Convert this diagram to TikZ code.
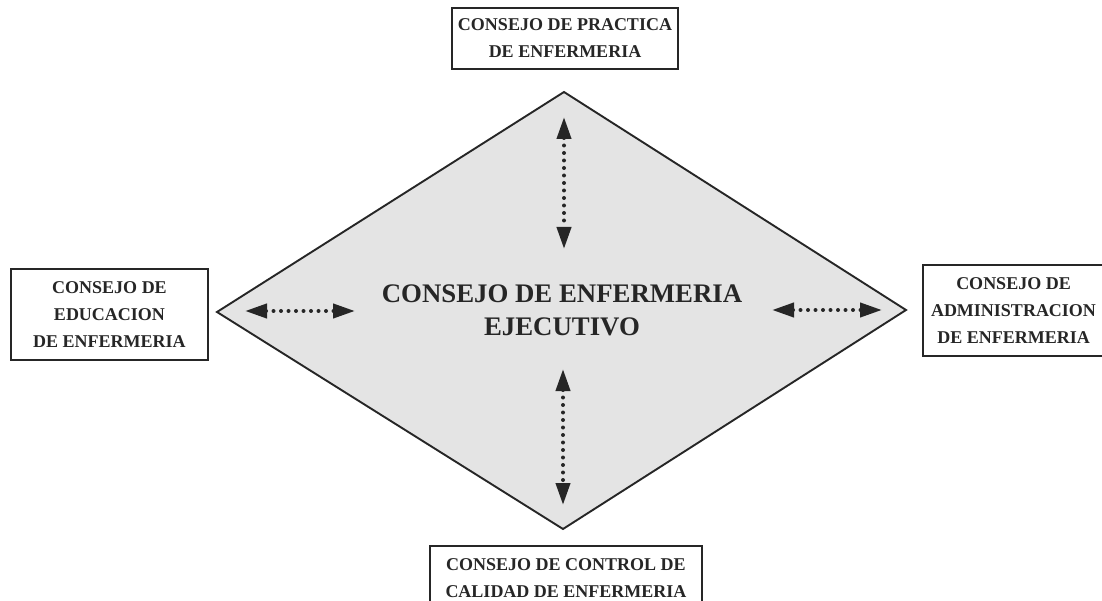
\documentclass[tikz,border=0pt]{standalone}
\usepackage{fontspec}
\setmainfont{Liberation Serif}
\usetikzlibrary{arrows.meta}
\definecolor{ink}{RGB}{38,38,38}
\definecolor{diafill}{RGB}{228,228,228}
\begin{document}
\begin{tikzpicture}[x=1pt,y=-1pt,
  box/.style={draw=ink, line width=1.6pt, text=ink, font=\bfseries\fontsize{18}{27}\selectfont, align=center, inner sep=0pt},
  dia/.style={draw=ink, line width=1.9pt, fill=diafill, line join=miter},
  dotarrow/.style={ink, line width=4pt, dash pattern=on 0pt off 7.5pt, line cap=round,
    {Triangle[length=22pt,width=14pt]}-{Triangle[length=22pt,width=14pt]}}]
\useasboundingbox (0,0) rectangle (1102,601);
\clip (0,0) rectangle (1102,601);
\fill[white] (0,0) rectangle (1102,601);
% diamond
\coordinate (T) at (564,92);
\coordinate (R) at (906,310);
\coordinate (B) at (563,529);
\coordinate (L) at (217,312);
\draw[dia] (T) -- (R) -- (B) -- (L) -- cycle;
% boxes
\node[box, minimum width=226pt, minimum height=61pt] (prac) at (565,38.5) {CONSEJO DE PRACTICA\\DE ENFERMERIA};
\node[box, minimum width=197pt, minimum height=91pt] (educ) at (109.5,314.5) {CONSEJO DE\\EDUCACION\\DE ENFERMERIA};
\node[box, minimum width=181pt, minimum height=91pt] (admin) at (1013.5,310.5) {CONSEJO DE\\ADMINISTRACION\\DE ENFERMERIA};
\node[box, minimum width=272pt, minimum height=64pt] (cal) at (566,578) {CONSEJO DE CONTROL DE\\CALIDAD DE ENFERMERIA};
% centre
\node[text=ink, font=\bfseries\fontsize{26.8}{33}\selectfont, align=center, inner sep=0pt] (exec) at (562,310) {CONSEJO DE ENFERMERIA\\EJECUTIVO};
% arrows
\coordinate (u1) at (564,117); \coordinate (u2) at (564,249);
\coordinate (d1) at (563,369); \coordinate (d2) at (563,505);
\coordinate (l1) at (245,311); \coordinate (l2) at (355,311);
\coordinate (r1) at (772,310); \coordinate (r2) at (882,310);
\draw[dotarrow] (u1) -- (u2);
\draw[dotarrow] (d1) -- (d2);
\draw[dotarrow] (l1) -- (l2);
\draw[dotarrow] (r1) -- (r2);
\end{tikzpicture}
\end{document}
